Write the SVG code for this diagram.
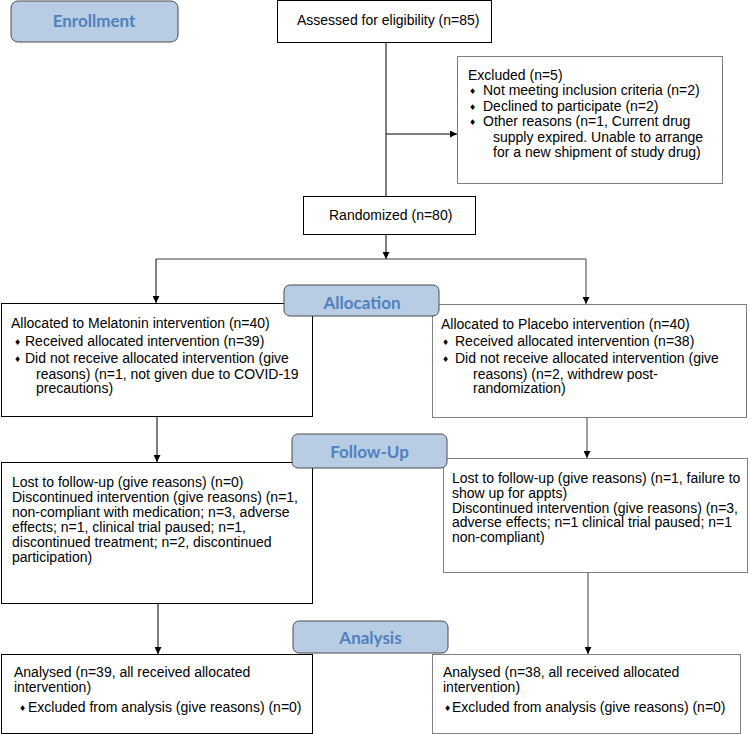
<svg xmlns="http://www.w3.org/2000/svg" width="751" height="734" viewBox="0 0 751 734">
<style>
  .bg { fill: #ffffff; }
  .box { fill: #ffffff; stroke: #000000; stroke-width: 1; }
  .boxg { fill: #ffffff; stroke: #808080; stroke-width: 1; }
  .stage { fill: #b8cce4; stroke: #4a4a4a; stroke-width: 1; }
  .stxt { font-family: "Lato", "Open Sans", sans-serif; font-weight: 700; font-size: 17px; fill: #4f81bd; text-anchor: middle; }
  .t { font-family: "Liberation Sans", Arial, sans-serif; font-size: 14px; fill: #000000; }
  .b { font-family: "DejaVu Sans", sans-serif; font-size: 8px; fill: #000000; }
  .c { fill: none; stroke: #000000; stroke-width: 1; }
  .cg { fill: none; stroke: #404040; stroke-width: 1; }
</style>
<defs>
  <marker id="ah" viewBox="0 0 10 10" refX="10" refY="5" markerWidth="7" markerHeight="7" orient="auto" markerUnits="userSpaceOnUse">
    <path d="M0,0 L10,5 L0,10 z" fill="#000000"/>
  </marker>
</defs>
<rect class="bg" x="0" y="0" width="751" height="734"/>

<g id="connectors">
  <line class="c" x1="386" y1="43" x2="386" y2="196"/>
  <line class="c" x1="386" y1="134" x2="457" y2="134" marker-end="url(#ah)"/>
  <line class="c" x1="386" y1="235" x2="386" y2="259" marker-end="url(#ah)"/>
  <line class="cg" x1="156" y1="259" x2="586" y2="259"/>
  <line class="c" x1="156" y1="259" x2="156" y2="303" marker-end="url(#ah)"/>
  <line class="cg" x1="586" y1="259" x2="586" y2="304" marker-end="url(#ah)"/>
  <line class="c" x1="157" y1="416" x2="157" y2="462" marker-end="url(#ah)"/>
  <line class="cg" x1="587" y1="417" x2="587" y2="458" marker-end="url(#ah)"/>
  <line class="c" x1="158" y1="603" x2="158" y2="654" marker-end="url(#ah)"/>
  <line class="cg" x1="588" y1="572" x2="588" y2="654" marker-end="url(#ah)"/>
</g>

<g id="enrollment">
  <rect class="stage" x="11" y="1" width="167" height="41" rx="7"/>
  <text class="stxt" x="94" y="26.5">Enrollment</text>
</g>

<g id="assessed">
  <rect class="box" x="277.5" y="0.5" width="214" height="42"/>
  <text class="t" x="297" y="25">Assessed for eligibility (n=85)</text>
</g>

<g id="excluded">
  <rect class="boxg" x="457.5" y="56.5" width="265" height="127"/>
  <text class="t" x="468" y="79.5">Excluded (n=5)</text>
  <text class="b" x="469" y="94">♦</text>
  <text class="t" x="483" y="95">Not meeting inclusion criteria (n=2)</text>
  <text class="b" x="469" y="109.5">♦</text>
  <text class="t" x="483" y="110.5">Declined to participate (n=2)</text>
  <text class="b" x="469" y="125">♦</text>
  <text class="t" x="483" y="126">Other reasons (n=1, Current drug</text>
  <text class="t" x="493" y="141.5">supply expired. Unable to arrange</text>
  <text class="t" x="493" y="157">for a new shipment of study drug)</text>
</g>

<g id="randomized">
  <rect class="box" x="303.5" y="196.5" width="172" height="38"/>
  <text class="t" x="329" y="220">Randomized (n=80)</text>
</g>

<g id="alloc-left">
  <rect class="box" x="1.5" y="303.5" width="311" height="113"/>
  <text class="t" x="11" y="327.5">Allocated to Melatonin intervention (n=40)</text>
  <text class="b" x="14" y="344.5">♦</text>
  <text class="t" x="25" y="345.5">Received allocated intervention (n=39)</text>
  <text class="b" x="14" y="361.5">♦</text>
  <text class="t" x="25" y="362.5">Did not receive allocated intervention (give</text>
  <text class="t" x="36" y="378.5">reasons) (n=1, not given due to COVID-19</text>
  <text class="t" x="36" y="393">precautions)</text>
</g>

<g id="alloc-right">
  <rect class="boxg" x="432.5" y="304.5" width="314" height="113"/>
  <text class="t" x="441" y="328.5">Allocated to Placebo intervention (n=40)</text>
  <text class="b" x="442" y="345">♦</text>
  <text class="t" x="455" y="346">Received allocated intervention (n=38)</text>
  <text class="b" x="442" y="362">♦</text>
  <text class="t" x="455" y="363">Did not receive allocated intervention (give</text>
  <text class="t" x="473" y="378.5">reasons) (n=2, withdrew post-</text>
  <text class="t" x="473" y="393">randomization)</text>
</g>

<g id="allocation">
  <rect class="stage" x="284" y="285" width="155" height="31" rx="6"/>
  <text class="stxt" x="362" y="309">Allocation</text>
</g>

<g id="followup-left">
  <rect class="box" x="1.5" y="462.5" width="311" height="141"/>
  <text class="t" x="12" y="486.5">Lost to follow-up (give reasons) (n=0)</text>
  <text class="t" x="12" y="502">Discontinued intervention (give reasons) (n=1,</text>
  <text class="t" x="12" y="517">non-compliant with medication; n=3, adverse</text>
  <text class="t" x="12" y="532">effects; n=1, clinical trial paused; n=1,</text>
  <text class="t" x="12" y="547">discontinued treatment; n=2, discontinued</text>
  <text class="t" x="12" y="561.5">participation)</text>
</g>

<g id="followup-right">
  <rect class="boxg" x="443.5" y="458.5" width="304" height="114"/>
  <text class="t" x="452" y="482.5">Lost to follow-up (give reasons) (n=1, failure to</text>
  <text class="t" x="452" y="497.5">show up for appts)</text>
  <text class="t" x="452" y="512.5">Discontinued intervention (give reasons) (n=3,</text>
  <text class="t" x="452" y="527">adverse effects; n=1 clinical trial paused; n=1</text>
  <text class="t" x="452" y="541.5">non-compliant)</text>
</g>

<g id="followup">
  <rect class="stage" x="292" y="434" width="155" height="34" rx="6"/>
  <text class="stxt" x="369.5" y="458">Follow-Up</text>
</g>

<g id="analysis-left">
  <rect class="box" x="1.5" y="654.5" width="311" height="79"/>
  <text class="t" x="14" y="676.5">Analysed (n=39, all received allocated</text>
  <text class="t" x="14" y="691.5">intervention)</text>
  <text class="b" x="19" y="710.5">♦</text>
  <text class="t" x="28" y="711.5">Excluded from analysis (give reasons) (n=0)</text>
</g>

<g id="analysis-right">
  <rect class="boxg" x="432.5" y="654.5" width="308" height="79"/>
  <text class="t" x="443" y="676.5">Analysed (n=38, all received allocated</text>
  <text class="t" x="443" y="691.5">intervention)</text>
  <text class="b" x="444" y="710.5">♦</text>
  <text class="t" x="452" y="711.5">Excluded from analysis (give reasons) (n=0)</text>
</g>

<g id="analysis">
  <rect class="stage" x="293" y="621" width="155" height="32" rx="6"/>
  <text class="stxt" x="370.5" y="644">Analysis</text>
</g>
</svg>
